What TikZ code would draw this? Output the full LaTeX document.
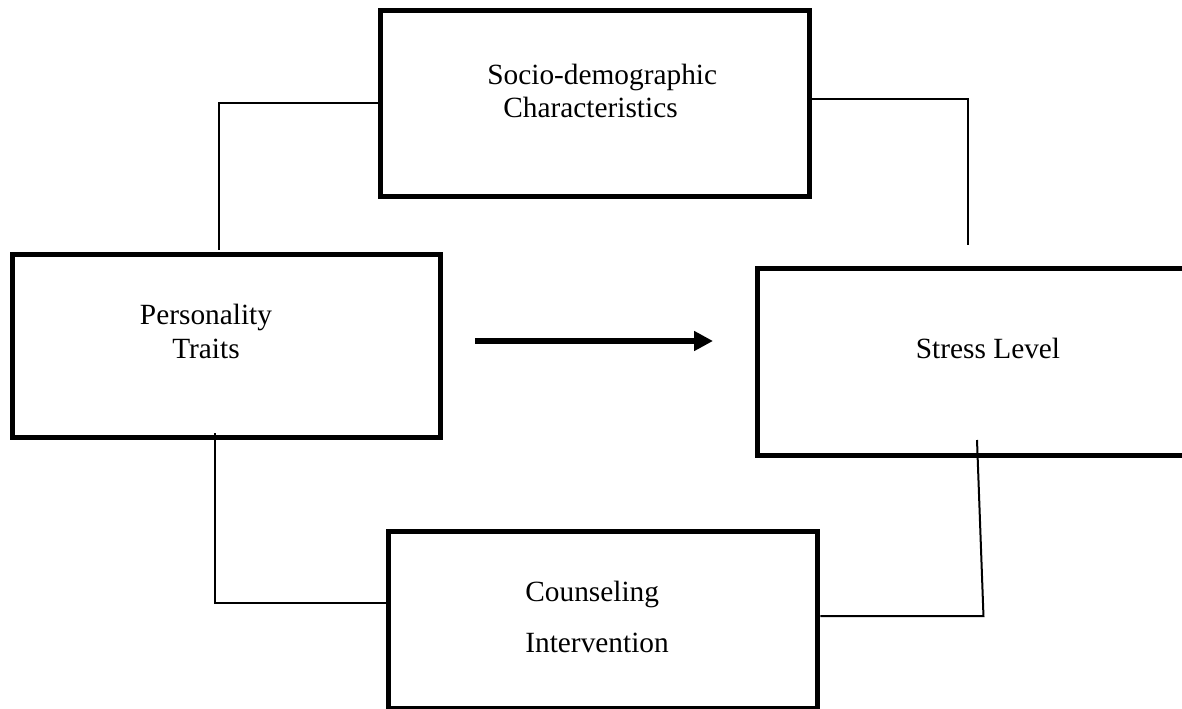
\documentclass[tikz,border=0pt]{standalone}
\usepackage{fontspec}
\setmainfont{Liberation Serif}
\usetikzlibrary{arrows.meta}

\tikzset{
  box/.style={draw, line width=0.1cm, minimum width=8.6cm, inner sep=0pt},
  txt/.style={font=\fontsize{16.7pt}{18.8pt}\selectfont, inner sep=0pt},
  link/.style={line width=0.04cm},
}

\begin{document}
\begin{tikzpicture}[x=0.02cm, y=-0.02cm]
\useasboundingbox (0,0) rectangle (1182,709);

%% boxes
\node[box, minimum height=3.74cm] (socio) at (595,103.5) {};                      %% top
\node[box, minimum width=8.58cm, minimum height=3.68cm] (pers) at (226.5,346) {}; %% left
\node[box, minimum height=3.76cm] (stress) at (972,362) {};                        %% right
\node[box, minimum height=3.56cm] (couns) at (603,620) {};                         %% bottom

%% box texts (base = last line)
\node[txt, anchor=base west, align=left] (socioT) at (487,118) {Socio-demographic\\\hspace*{0.32cm}Characteristics};
\node[txt, anchor=base, align=center] (persT) at (206,358) {Personality\\Traits};
\node[txt, anchor=base] (stressT) at (988,358) {Stress Level};
\node[txt, anchor=base west, align=left] (counsT) at (525,652) {Counseling\\[0.34cm]Intervention};

%% links
\coordinate (p1) at (219,250);
\coordinate (s1) at (968,245);
\coordinate (p2) at (215,433);
\coordinate (s2) at (977,440);
\draw[link] (p1) |- (socio.west);
\draw[link] ([yshift=0.09cm]socio.east) -| (s1);
\draw[link] (p2) |- ([yshift=0.34cm]couns.west);
\draw[link] ([yshift=0.08cm]couns.east) -- ++(163,0) -- (s2);

%% arrow
\coordinate (a1) at (475,341);
\coordinate (a2) at (713,341);
\draw[line width=0.12cm, -{Triangle[length=0.38cm, width=0.38cm]}] (a1) -- (a2);
\end{tikzpicture}
\end{document}
